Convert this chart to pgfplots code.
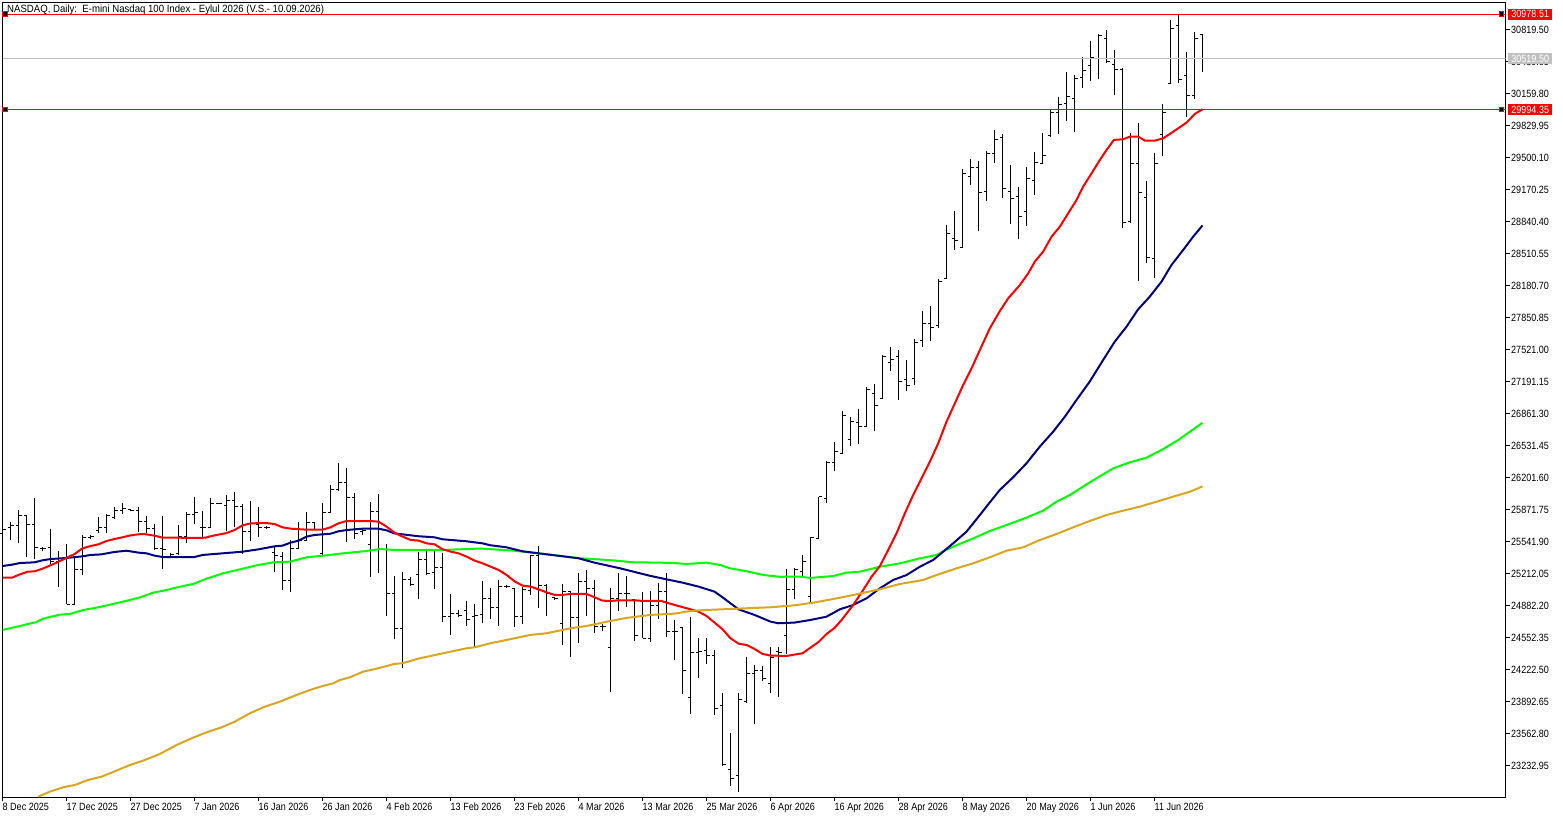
\documentclass[border=0pt]{standalone}
\usepackage{pgfplots}
\usepackage{pgfplotstable}
\usepackage{fontspec}
\setmainfont{Liberation Sans}
\newfontfamily\chartfont[FakeStretch=0.86]{Liberation Sans}
\newfontfamily\titlefont[FakeStretch=0.915]{Liberation Sans}
\pgfplotsset{compat=1.18}
\definecolor{mtgold}{HTML}{DAA520}
\definecolor{mtnavy}{HTML}{000080}
\definecolor{mtlime}{HTML}{00FF00}
\definecolor{mtgray}{HTML}{C0C0C0}
\pgfdeclareplotmark{ohlcopen}{\pgfpathmoveto{\pgfqpoint{0pt}{0pt}}\pgfpathlineto{\pgfqpoint{-3pt}{0pt}}\pgfusepathqstroke}
\pgfdeclareplotmark{ohlcclose}{\pgfpathmoveto{\pgfqpoint{0pt}{0pt}}\pgfpathlineto{\pgfqpoint{3pt}{0pt}}\pgfusepathqstroke}
\pgfplotstableread{
k o h l c
0 25626 25712 25557 25667
1 25688 25743 25557 25702
2 25702 25866 25530 25805
3 25805 25811 25385 25722
4 25722 25990 25365 25475
5 25468 25488 25447 25468
6 25482 25671 25299 25334
7 25334 25444 25076 25365
8 25379 25516 24894 24894
9 24894 25379 24894 25258
10 25258 25609 25196 25585
11 25585 25609 25571 25592
12 25660 25794 25633 25688
13 25688 25825 25626 25811
14 25791 25894 25777 25866
15 25866 25935 25829 25880
16 25873 25880 25853 25860
17 25860 25894 25640 25750
18 25750 25805 25626 25674
19 25674 25722 25454 25471
20 25471 25805 25262 25461
21 25392 25427 25385 25406
22 25420 25712 25403 25592
23 25592 25846 25530 25818
24 25818 26000 25722 25839
25 25688 25853 25585 25688
26 25688 25990 25688 25935
27 25935 25942 25925 25935
28 25915 26021 25653 25963
29 25963 26049 25688 25901
30 25901 25928 25413 25640
31 25640 25959 25547 25729
32 25722 25897 25592 25688
33 25688 25702 25674 25688
34 25430 25495 25231 25399
35 25392 25437 25042 25138
36 25138 25557 25025 25471
37 25471 25743 25464 25557
38 25557 25846 25557 25736
39 25736 25743 25660 25667
40 25420 25935 25403 25842
41 25842 26124 25839 26073
42 26073 26347 26066 26152
43 26152 26296 25540 25997
44 25997 26038 25571 25626
45 25643 25677 25609 25660
46 25516 25949 25179 25853
47 25853 26031 25220 25468
48 25462 25517 24778 25001
49 25001 25187 24541 24644
50 24644 25228 24242 25152
51 25152 25173 25087 25097
52 25204 25434 24950 25352
53 25352 25444 25197 25214
54 25225 25455 25053 25276
55 25276 25427 24716 24771
56 24771 25001 24579 24802
57 24802 24836 24761 24774
58 24826 24929 24671 24740
59 24768 24898 24458 24781
60 24785 25135 24706 24957
61 24957 25063 24744 24864
62 24864 25142 24671 25080
63 25080 25094 25063 25080
64 25056 25060 24661 24771
65 24771 25077 24692 25042
66 25036 25403 24994 25393
67 25393 25496 24857 25087
68 25087 25104 24774 25001
69 24967 24974 24939 24953
70 24699 25104 24475 25029
71 25029 25036 24355 24761
72 24761 25221 24500 25128
73 25128 25249 24774 25060
74 25053 25146 24603 24668
75 24668 24692 24623 24668
76 24445 25060 23991 24953
77 24953 25221 24829 25008
78 25001 25190 24864 25001
79 24939 24939 24520 24575
80 24781 25025 24544 24544
81 24544 25036 24510 24878
82 24878 25118 24747 25029
83 25029 25221 24561 24616
84 24616 24733 24321 24616
85 24651 24658 23970 24214
86 23936 24768 23764 24400
87 24400 24548 24135 24403
88 24417 24548 24280 24369
89 24369 24424 23754 23823
90 23847 23981 23228 23245
91 23187 23565 23022 23101
92 23132 23981 22964 23909
93 23891 24352 23881 24183
94 24183 24269 23661 24211
95 24211 24259 24108 24132
96 24080 24458 23977 24348
97 24407 24458 23943 24396
98 24575 25255 24383 25042
99 25049 25266 24946 25249
100 25231 25403 25180 25338
101 24974 25585 24905 25585
102 25571 26004 25564 26004
103 25987 26375 25935 26358
104 26358 26564 26272 26468
105 26451 26884 26444 26842
106 26595 26822 26526 26777
107 26770 26904 26547 26726
108 26732 27131 26726 27110
109 27069 27165 26684 26945
110 27011 27464 27007 27447
111 27389 27543 27303 27420
112 27447 27516 27000 27193
113 27213 27409 27097 27152
114 27220 27626 27158 27598
115 27615 27918 27543 27791
116 27784 27969 27612 27749
117 27770 28244 27739 28217
118 28255 28804 28251 28718
119 28667 28949 28547 28646
120 28574 29379 28574 29337
121 29303 29482 29220 29399
122 29399 29461 28746 29138
123 29145 29567 29056 29543
124 29543 29784 29447 29688
125 29701 29743 29086 29183
126 29152 29423 28818 29080
127 29097 29200 28664 28894
128 28939 29399 28794 29286
129 29265 29557 29114 29451
130 29440 29756 29440 29523
131 29726 29990 29715 29966
132 29966 30124 29743 30042
133 30059 30382 29880 30131
134 30110 30347 29767 30317
135 30327 30540 30220 30392
136 30444 30701 30292 30533
137 30523 30774 30313 30753
138 30729 30815 30478 30488
139 30461 30609 30145 30409
140 30409 30420 28777 28832
141 28842 29750 28822 29440
142 29433 29853 28231 29141
143 29090 29258 28410 28471
144 28461 29543 28262 29440
145 29736 30052 29519 29966
146 30265 30918 30258 30829
147 30856 30978.51 30272 30306
148 30347 30588 29921 30138
149 30141 30794 30100 30729
150 30763 30774 30385 30519.5
}\ohlc
\begin{document}
\begin{tikzpicture}
\path[use as bounding box] (0,0) rectangle (1563pt,818pt);
\begin{axis}[
  at={(2.5pt,20.5pt)}, anchor=south west,
  scale only axis, width=1503pt, height=795pt,
  xmin=0, xmax=187.875, ymin=22903.1, ymax=31097.8,
  axis line style={line width=1pt,black},
  tick style={line width=1pt,black},
  major tick length=4pt,
  tick align=outside,
  xtick pos=bottom, ytick pos=right,
  yticklabel pos=right,
  xtick={0,8,...,144},
  xticklabels={8 Dec 2025,17 Dec 2025,27 Dec 2025,7 Jan 2026,16 Jan 2026,26 Jan 2026,4 Feb 2026,13 Feb 2026,23 Feb 2026,4 Mar 2026,13 Mar 2026,25 Mar 2026,6 Apr 2026,16 Apr 2026,28 Apr 2026,8 May 2026,20 May 2026,1 Jun 2026,11 Jun 2026},
  ytick={30819.5,30489.65,30159.8,29829.95,29500.1,29170.25,28840.4,28510.55,28180.7,27850.85,27521,27191.15,26861.3,26531.45,26201.6,25871.75,25541.9,25212.05,24882.2,24552.35,24222.5,23892.65,23562.8,23232.95},
  yticklabels={30819.50,30489.65,30159.80,29829.95,29500.10,29170.25,28840.40,28510.55,28180.70,27850.85,27521.00,27191.15,26861.30,26531.45,26201.60,25871.75,25541.90,25212.05,24882.20,24552.35,24222.50,23892.65,23562.80,23232.95},
  ticklabel style={font=\chartfont\fontsize{10.5pt}{12pt}\selectfont,black,inner sep=0pt},
  xticklabel style={anchor=north west,yshift=-1.5pt},
  yticklabel style={anchor=west,xshift=1.5pt},
  clip mode=individual,
]
% OHLC bars
\addplot[draw=none, no markers,
  error bars/.cd, y dir=plus, y explicit, error mark=none,
  error bar style={line width=1pt,black}]
  table[x=k,y=l,y error plus expr=\thisrow{h}-\thisrow{l}] {\ohlc};
\addplot[only marks, mark=ohlcopen, mark options={line width=1pt,black}] table[x=k,y=o] {\ohlc};
\addplot[only marks, mark=ohlcclose, mark options={line width=1pt,black}] table[x=k,y=c] {\ohlc};
% horizontal price levels
\addplot[mtgray,line width=1pt] coordinates {(0,30519.5) (187.875,30519.5)};
\addplot[red,line width=1pt] coordinates {(0,30978.51) (187.875,30978.51)};
\addplot[red,line width=1pt] coordinates {(0,29994.35) (187.875,29994.35)};
\addplot[only marks,mark=square*,mark size=2.2pt,mark options={draw=red,fill=black,line width=1pt}] coordinates {(0.3,30978.51) (187.35,30978.51) (0.3,29994.35) (187.35,29994.35)};
% lime MA
\addplot[mtlime,line width=2pt,line join=round] coordinates {
(0,24630)(2.17,24671)(4.25,24712)(5.08,24747)(7.17,24788)(8.42,24795)(10.08,24836)(11.75,24860)(13.83,24898)(15.92,24939)(17.17,24966)(18.83,25014)(20.5,25042)(22.17,25076)(23.83,25104)(25.5,25159)(27.58,25214)(29.67,25255)(31.75,25296)(33.83,25327)(35.92,25334)(38,25379)(40.08,25396)(42.58,25420)(45.08,25440)(47.17,25464)(49,25455)(55.08,25455)(59.67,25469)(63.83,25448)(68,25410)(72.17,25369)(75.5,25352)(78.83,25328)(83.83,25321)(85.5,25310)(88,25324)(89.67,25300)(90.92,25266)(93,25235)(95.08,25197)(97.17,25178)(99.67,25180)(100.92,25166)(103.83,25186)(105.5,25221)(107.17,25231)(109.67,25282)(112.17,25317)(114.67,25368)(116.75,25403)(118.83,25489)(121.33,25574)(123.41,25650)(125.5,25712)(127.58,25774)(130.08,25860)(131.74,25952)(133.41,26021)(135.9,26152)(138.83,26296)(140.91,26358)(143,26406)(145.08,26495)(146.95,26588)(149.9,26760)(150,26765)};
% navy MA
\addplot[mtnavy,line width=2pt,line join=round] coordinates {
(0,25289)(1.17,25303)(2.17,25320)(4,25327)(5,25348)(6,25361)(8,25372)(10,25389)(11,25403)(12.33,25409)(14,25434)(15.5,25447)(17,25427)(18,25420)(19,25396)(20,25382)(24,25382)(25,25403)(28,25423)(30,25437)(32,25461)(34,25492)(35,25499)(36,25530)(37,25550)(38,25592)(39,25609)(41,25622)(42,25647)(43,25660)(45,25674)(47,25674)(48,25657)(49,25625)(51,25606)(52,25596)(54,25585)(55,25565)(58,25544)(60,25523)(61,25503)(63,25482)(65,25441)(67,25420)(69,25400)(72,25369)(74,25324)(77,25269)(79,25228)(81,25187)(83,25152)(85,25118)(87,25077)(89,25025)(90,24967)(91,24905)(92,24843)(94,24785)(96,24716)(97,24699)(99,24706)(101,24733)(103,24767)(104.67,24843)(106.33,24887)(108,24956)(109.67,25059)(111.33,25145)(113,25196)(114.67,25282)(116.33,25351)(117.58,25437)(118.83,25523)(120.5,25643)(122.17,25815)(123.41,25945)(124.66,26073)(126.33,26204)(128,26348)(129.66,26520)(131.33,26674)(132.8,26829)(134.25,27001)(135.9,27190)(137.58,27413)(139.03,27602)(140.5,27756)(141.95,27935)(143.41,28066)(144.87,28220)(146.12,28392)(147.58,28547)(148.83,28684)(150,28800)};
% red MA
\addplot[red,line width=2pt,line join=round] coordinates {
(0,25169)(1.17,25169)(2.17,25203)(3.17,25231)(4,25234)(5,25262)(6,25296)(7,25334)(8,25372)(9,25413)(10,25471)(11,25495)(12,25513)(13,25547)(14,25568)(15,25585)(16,25605)(17,25616)(17.67,25619)(19,25602)(20,25581)(22,25581)(24,25578)(25.33,25581)(26.33,25602)(28,25629)(29,25660)(30,25708)(31,25729)(33,25732)(34,25722)(35,25688)(36,25674)(38,25664)(40,25664)(41,25688)(42,25729)(43,25753)(46,25753)(47,25746)(48,25695)(49,25633)(50,25592)(51,25558)(52,25551)(53,25523)(54,25513)(55,25462)(56,25438)(57,25420)(58,25386)(59,25345)(60,25317)(61,25283)(62,25249)(63,25197)(64,25132)(65,25087)(66,25077)(67,25049)(68,25018)(69,24991)(70,24991)(71,25001)(73,25001)(74,24967)(75,24932)(76,24929)(77,24936)(79,24936)(80,24929)(82.33,24929)(84,24888)(86,24843)(87,24819)(88,24774)(89,24706)(90,24637)(91,24544)(92,24489)(93,24475)(94,24434)(95,24383)(96,24366)(98,24362)(100,24390)(101,24448)(102,24506)(103,24589)(104,24651)(104.88,24733)(106.33,24887)(107.58,25042)(108.63,25179)(109.67,25289)(110.71,25454)(111.75,25626)(112.79,25832)(113.83,26021)(114.88,26193)(115.92,26365)(116.96,26554)(118,26777)(119.04,26966)(120.08,27155)(121.13,27327)(122.17,27516)(123.41,27739)(124.67,27918)(125.71,28049)(127.17,28186)(128.21,28306)(129.04,28427)(130.08,28530)(131.13,28684)(132.17,28788)(133.21,28925)(134.25,29062)(135.08,29200)(136.13,29337)(137.17,29475)(138,29578)(138.92,29681)(140.08,29688)(140.92,29715)(141.96,29715)(142.79,29674)(144.04,29674)(145.08,29698)(145.92,29743)(146.96,29801)(148,29860)(149.04,29949)(150,29997)};
% gold MA
\addplot[mtgold,line width=2pt,line join=round] coordinates {
(4.46,22912)(5.92,22963)(7.58,23008)(9.04,23032)(10.71,23084)(12.38,23118)(14.04,23173)(15.92,23238)(17.58,23283)(19.67,23352)(21.75,23444)(23.63,23513)(25.5,23575)(27.38,23626)(29.04,23685)(30.92,23771)(32.79,23839)(34.67,23891)(36.54,23953)(38.42,24011)(39.88,24049)(41.33,24080)(42.17,24114)(43.42,24142)(45.08,24200)(46.75,24231)(49,24280)(50,24287)(52,24335)(55.08,24390)(58,24441)(59,24451)(61,24493)(63,24527)(66,24579)(68,24596)(71,24647)(73,24671)(76,24723)(78,24754)(81,24785)(84,24798)(86,24826)(88,24836)(92,24850)(96,24864)(99,24884)(101.33,24911)(103.83,24949)(106.33,24990)(109.67,25049)(112.17,25104)(115.08,25145)(116.75,25196)(119.25,25265)(121.33,25317)(123.41,25379)(125.5,25447)(127.58,25482)(129.66,25557)(131.74,25619)(133.83,25688)(135.9,25753)(138,25815)(140.08,25860)(142.16,25901)(144.25,25952)(146.33,26004)(148.41,26055)(150,26110)};
\coordinate (tA) at (axis cs:187.875,30978.51);
\coordinate (tB) at (axis cs:187.875,30519.5);
\coordinate (tC) at (axis cs:187.875,29994.35);
\end{axis}
\tikzset{tag/.style={anchor=west,xshift=2.5pt,minimum width=44pt,minimum height=11pt,inner sep=0pt,text=white,font=\chartfont\fontsize{10.5pt}{12pt}\selectfont}}
\node[tag,fill=red] at (tA) {30978.51};
\node[tag,fill=mtgray] at (tB) {30519.50};
\node[tag,fill=red] at (tC) {29994.35};
\node[anchor=base west,inner sep=0pt,font=\titlefont\fontsize{10.5pt}{12pt}\selectfont] at (7pt,805.5pt) {NASDAQ, Daily:\ \ E-mini Nasdaq 100 Index - Eylul 2026 (V.S.- 10.09.2026)};
\end{tikzpicture}
\end{document}
